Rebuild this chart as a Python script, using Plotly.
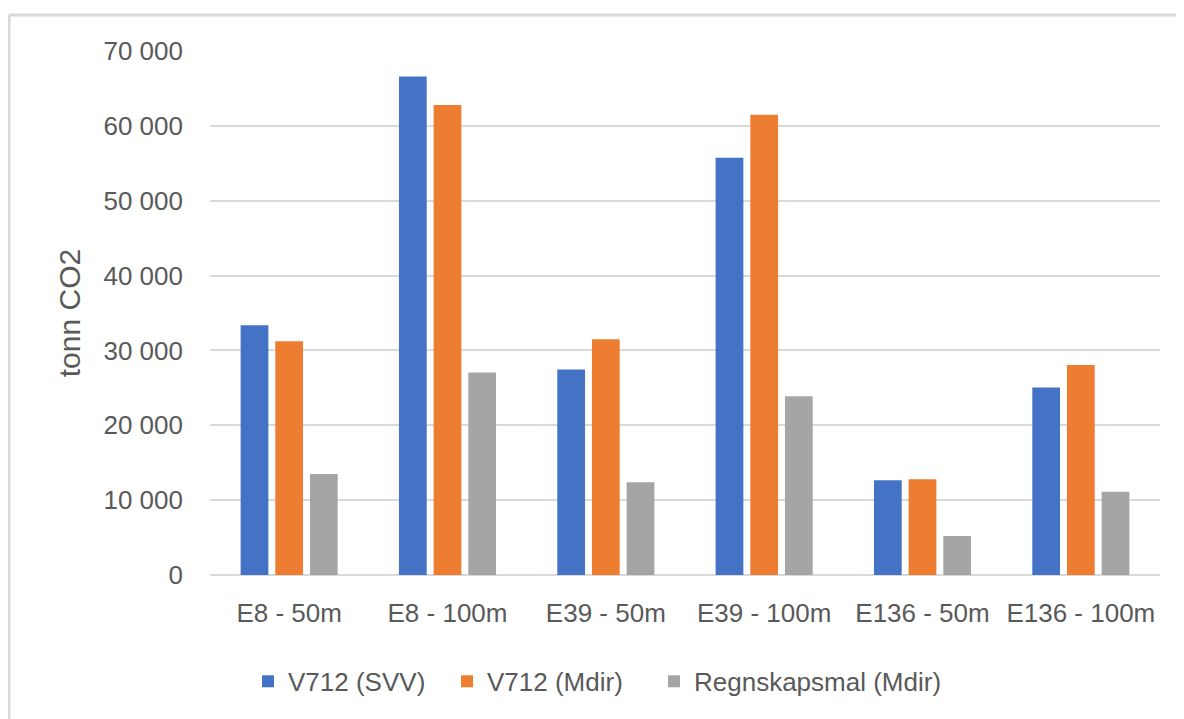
import plotly.graph_objects as go

categories = ["E8 - 50m", "E8 - 100m", "E39 - 50m", "E39 - 100m", "E136 - 50m", "E136 - 100m"]
svv = [33350, 66580, 27450, 55750, 12650, 25060]
mdir = [31230, 62800, 31500, 61500, 12790, 28050]
regnskap = [13480, 27050, 12400, 23870, 5200, 11130]
series_names = ["V712 (SVV)", "V712 (Mdir)", "Regnskapsmal (Mdir)"]
colors = ["#4472C4", "#ED7D31", "#A5A5A5"]

font_family = "Liberation Sans, Arial, sans-serif"
text_color = "#595959"

W, H = 1184, 719
OFF = 8  # page offset of the figure
PL, PR, PT, PB = 210, 1160, 51, 575.5
L, T = PL - OFF, PT - OFF
R = W - (PR - OFF)
B = H - (PB - OFF)
pw, ph = PR - PL, PB - PT

def px(x):
    return (x - PL) / pw

def py(y):
    return (PB - y) / ph

legend_ids = ["legend", "legend2", "legend3"]
legend_x = [248, 447, 654]

fig = go.Figure()
for name, vals, col, lid in zip(series_names, [svv, mdir, regnskap], colors, legend_ids):
    fig.add_trace(go.Bar(x=categories, y=vals, name=name, legend=lid,
                         marker=dict(color=col, line=dict(width=0))))

legend_common = dict(orientation="h", yanchor="middle", xanchor="left",
                     font=dict(size=26, color=text_color), bgcolor="rgba(0,0,0,0)", itemwidth=30)

fig.update_layout(
    width=W, height=H,
    margin=dict(l=L, r=R, t=T, b=B),
    paper_bgcolor="white", plot_bgcolor="white",
    barmode="group", bargap=0.343, bargroupgap=0.2,
    separators=", ",
    font=dict(family=font_family, size=26, color=text_color),
    showlegend=True,
    legend=dict(x=px(legend_x[0]), y=py(682), **legend_common),
    legend2=dict(x=px(legend_x[1]), y=py(682), **legend_common),
    legend3=dict(x=px(legend_x[2]), y=py(682), **legend_common),
    xaxis=dict(showgrid=False, showline=False, ticks="", tickfont=dict(size=26, color=text_color),
               ticklabelstandoff=20),
    yaxis=dict(range=[0, 70000], dtick=10000, tickformat=",d", showgrid=True, gridcolor="#D9D9D9",
               gridwidth=2, zeroline=True, zerolinecolor="#D9D9D9", zerolinewidth=2, showline=False,
               tickfont=dict(size=26, color=text_color), ticklabelstandoff=26,
               title=dict(text="tonn CO2", font=dict(size=30, color=text_color), standoff=13)),
    shapes=[
        dict(type="line", xref="paper", yref="paper", x0=px(9), x1=px(1200), y0=py(15), y1=py(15),
             line=dict(color="#D9D9D9", width=3)),
        dict(type="line", xref="paper", yref="paper", x0=px(9), x1=px(9), y0=py(15), y1=py(740),
             line=dict(color="#D9D9D9", width=3)),
    ],
)

fig.write_html("out.html")
